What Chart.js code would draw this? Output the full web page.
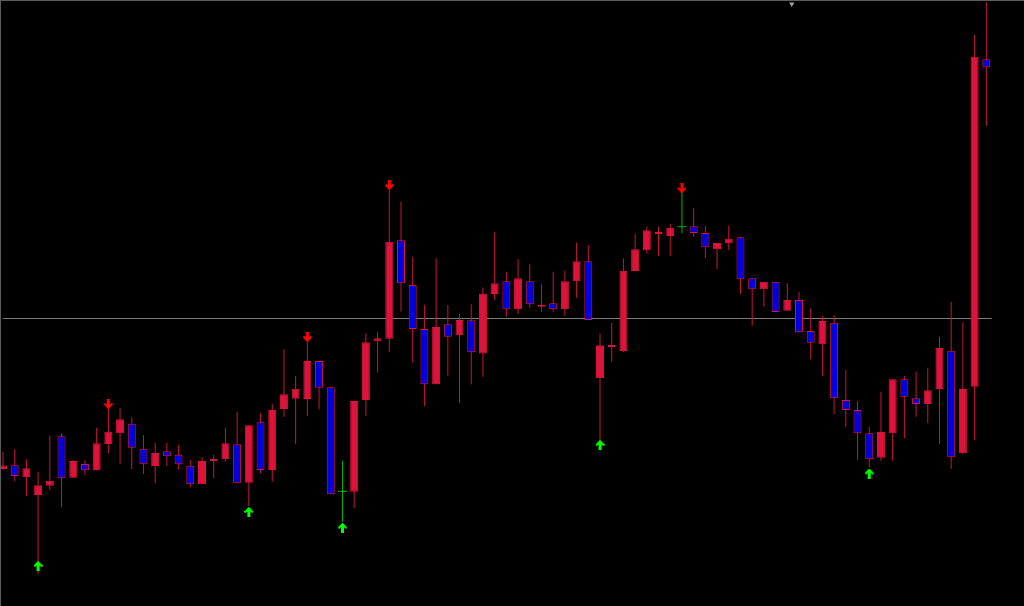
<!DOCTYPE html>
<html>
<head>
<meta charset="utf-8">
<script src="https://cdn.jsdelivr.net/npm/chart.js@4.4.1/dist/chart.umd.min.js"></script>
<style>
  html, body { margin: 0; padding: 0; background: #000; overflow: hidden; }
  canvas { display: block; }
</style>
</head>
<body>
<canvas id="chart" width="1024" height="606"></canvas>
<script>
// OHLC per bar
const opens = [137.0, 140.7, 128.7, 111.0, 120.3, 169.7, 128.3, 142.0, 135.7, 162.0,
  172.7, 182.3, 157.3, 140.0, 154.7, 151.3, 140.3, 121.7, 145.0, 146.7,
  161.7, 123.3, 183.7, 136.0, 197.0, 207.3, 207.0, 245.0, 218.7, 114.7,
  114.3, 206.0, 264.7, 267.3, 365.7, 321.0, 277.0, 221.7, 281.7, 270.7,
  285.7, 252.5, 312.0, 324.7, 296.7, 324.7, 299.3, 302.7, 296.7, 324.7,
  344.7, 227.7, 261.0, 255.0, 335.0, 355.7, 374.0, 370.0, 379.3, 379.7,
  373.0, 356.7, 362.7, 368.7, 327.7, 316.7, 324.3, 295.3, 306.0, 275.0,
  261.7, 283.3, 206.0, 196.0, 172.7, 148.3, 172.7, 226.7, 207.7, 202.0,
  217.0, 255.3, 152.7, 219.3, 546.7];
const highs = [154.5, 156.7, 146.7, 134.3, 170.3, 172.7, 146.0, 146.0, 178.3, 197.7,
  197.7, 188.7, 171.0, 163.3, 163.3, 161.0, 146.0, 148.7, 151.3, 178.3,
  194.3, 180.7, 192.7, 202.0, 256.7, 230.0, 266.0, 245.0, 219.3, 145.3,
  205.0, 272.7, 274.0, 417.7, 404.3, 349.3, 301.0, 347.7, 301.0, 292.0,
  301.7, 318.5, 373.7, 334.3, 346.7, 341.7, 321.7, 334.3, 335.3, 363.3,
  361.0, 272.7, 283.3, 347.7, 372.0, 379.0, 379.3, 382.0, 414.3, 397.7,
  380.0, 363.0, 380.3, 368.7, 327.7, 324.3, 324.3, 322.7, 314.3, 297.7,
  290.0, 291.0, 236.0, 205.3, 179.3, 214.3, 226.7, 230.0, 234.3, 238.3,
  269.3, 304.0, 284.0, 571.0, 604.0];
const lows = [136.0, 125.0, 110.0, 32.0, 116.0, 98.7, 128.0, 131.0, 135.7, 152.7,
  142.0, 136.7, 132.0, 122.7, 140.0, 136.7, 118.7, 121.7, 127.7, 144.3,
  123.3, 100.0, 132.7, 124.3, 189.3, 162.0, 190.0, 196.7, 111.7, 84.0,
  97.7, 190.3, 233.5, 254.3, 294.3, 243.3, 200.0, 221.7, 230.3, 202.7,
  221.7, 229.3, 306.0, 289.3, 291.7, 298.3, 294.3, 294.3, 290.3, 308.3,
  286.0, 159.3, 244.3, 254.0, 335.0, 352.7, 350.0, 350.0, 372.7, 369.3,
  347.7, 337.0, 356.0, 312.0, 280.3, 299.3, 294.0, 295.3, 273.7, 246.7,
  230.3, 191.7, 179.3, 146.0, 139.0, 145.3, 145.3, 167.7, 189.3, 182.7,
  162.0, 137.0, 152.0, 166.0, 480.0];
const closes = [140.5, 130.0, 137.7, 120.7, 125.3, 127.7, 145.0, 135.7, 162.7, 174.3,
  186.7, 158.3, 141.7, 153.0, 149.7, 141.7, 121.7, 145.0, 147.0, 162.7,
  123.3, 180.7, 136.0, 196.0, 211.7, 217.3, 245.0, 218.3, 111.7, 114.7,
  205.0, 263.7, 267.7, 364.3, 322.7, 277.0, 221.7, 279.0, 269.3, 286.0,
  253.7, 312.5, 322.7, 296.7, 327.7, 301.7, 301.3, 296.7, 324.7, 344.7,
  286.0, 260.7, 259.0, 335.3, 356.7, 375.7, 372.0, 378.3, 379.3, 373.0,
  358.7, 363.0, 367.3, 326.7, 316.7, 324.3, 294.0, 306.0, 273.7, 263.3,
  285.0, 207.7, 196.0, 172.7, 146.7, 174.0, 226.7, 209.3, 202.0, 215.7,
  258.0, 148.7, 217.0, 549.3, 538.7];

// signal arrows (bar index, price of arrow centre)
const upArrowBars = [3, 21, 29, 51, 74];
const upArrowPrices = [40.0, 94.0, 78.3, 161.0, 132.5];
const downArrowBars = [9, 26, 33, 58];
const downArrowPrices = [202.0, 269.0, 421.0, 417.7];

// horizontal level and the little shift marker at the top
const levelPrice = 287.5;
const levelFrom = -0.02, levelTo = 84.46;
const shiftMarker = { x: 67.38, y: 602 };

const bullColor = '#DC143C';
const bearColor = '#0000E0';
const wickColor = '#C8143C';
const dojiColor = '#00B400';

const bars = opens.map((_, i) => i);
const isDoji = bars.map(i => opens[i] === closes[i]);

function makeArrow(color, up) {
    const c = document.createElement('canvas');
    c.width = 9;
    c.height = 10;
    const g = c.getContext('2d');
    if (!up) { g.translate(0, 10); g.scale(1, -1); }
    g.fillStyle = color;
    g.strokeStyle = color;
    g.fillRect(3, 2, 3, 8);
    g.lineWidth = 2;
    g.beginPath();
    g.moveTo(0.5, 5.5);
    g.lineTo(4.5, 1.2);
    g.lineTo(8.5, 5.5);
    g.stroke();
    return c;
}

const frame = {
    id: 'frame',
    beforeDraw(chart) {
        const g = chart.ctx;
        g.save();
        g.fillStyle = '#000';
        g.fillRect(0, 0, chart.width, chart.height);
        g.restore();
    },
    afterDraw(chart) {
        const g = chart.ctx;
        g.save();
        g.strokeStyle = '#5c5c5c';
        g.lineWidth = 1;
        g.beginPath();
        g.moveTo(0, 0.5); g.lineTo(chart.width, 0.5);
        g.moveTo(0.5, 0); g.lineTo(0.5, chart.height);
        g.stroke();
        g.restore();
    }
};

const ctx = document.getElementById('chart').getContext('2d');

new Chart(ctx, {
    type: 'bar',
    data: {
        datasets: [
            {
                // arrows on top
                type: 'scatter',
                order: -2,
                data: upArrowBars.map((b, k) => ({ x: b, y: upArrowPrices[k] })),
                pointStyle: makeArrow('#00FF00', true),
                pointRadius: 5
            },
            {
                type: 'scatter',
                order: -2,
                data: downArrowBars.map((b, k) => ({ x: b, y: downArrowPrices[k] })),
                pointStyle: makeArrow('#FF0000', false),
                pointRadius: 5
            },
            {
                type: 'scatter',
                order: -2,
                data: [shiftMarker],
                pointStyle: 'triangle',
                rotation: 180,
                pointRadius: 3,
                backgroundColor: '#A0A0A8',
                borderWidth: 0
            },
            {
                // candle bodies
                order: 0,
                grouped: false,
                data: bars.filter(i => !isDoji[i]).map(i => ({ x: i, y: [opens[i], closes[i]] })),
                backgroundColor: bars.filter(i => !isDoji[i]).map(i => closes[i] > opens[i] ? bullColor : bearColor),
                borderColor: bullColor,
                borderWidth: 1,
                borderSkipped: false,
                inflateAmount: 0,
                barThickness: 8
            },
            {
                // doji ticks
                order: 0,
                grouped: false,
                data: bars.filter(i => isDoji[i]).map(i => ({ x: i, y: [opens[i] - 0.5, opens[i] + 0.5] })),
                backgroundColor: dojiColor,
                borderWidth: 0,
                inflateAmount: 0,
                barThickness: 9
            },
            {
                // wicks
                order: 1,
                grouped: false,
                data: bars.map(i => ({ x: i, y: [lows[i], highs[i]] })),
                backgroundColor: bars.map(i => isDoji[i] ? dojiColor : wickColor),
                borderWidth: 0,
                inflateAmount: 0,
                barThickness: 1
            },
            {
                type: 'line',
                order: 2,
                data: [{ x: levelFrom, y: levelPrice }, { x: levelTo, y: levelPrice }],
                borderColor: '#7C7C7C',
                borderWidth: 1,
                pointRadius: 0
            }
        ]
    },
    options: {
        responsive: false,
        animation: false,
        events: [],
        layout: { padding: 0, autoPadding: false },
        plugins: {
            legend: { display: false },
            tooltip: { enabled: false }
        },
        scales: {
            x: { type: 'linear', min: -0.2563, max: 87.22, offset: false, display: false },
            y: { type: 'linear', min: 0, max: 606, display: false }
        }
    },
    plugins: [frame]
});
</script>
</body>
</html>
